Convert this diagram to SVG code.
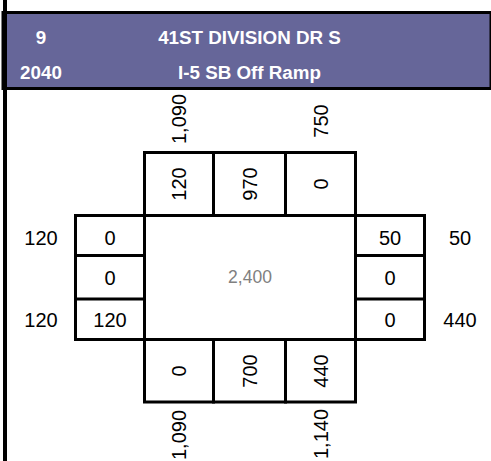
<svg xmlns="http://www.w3.org/2000/svg" width="491" height="461" viewBox="0 0 491 461">
<style>
.hd{font-family:"Liberation Sans",Arial,sans-serif;font-weight:bold;font-size:18.8px;fill:#ffffff;text-anchor:middle}
.n{font-family:"Liberation Sans",Arial,sans-serif;font-size:20px;fill:#000000;text-anchor:middle}
.c{font-family:"Liberation Sans",Arial,sans-serif;font-size:17.5px;fill:#808080;text-anchor:middle}
.ln{stroke:#000000;stroke-width:3;fill:none;stroke-linecap:square}
</style>
<rect x="0" y="0" width="491" height="461" fill="#ffffff"/>
<g id="header">
<rect x="3" y="12.5" width="488" height="76" fill="#666699" stroke="#000000" stroke-width="3"/>
<rect x="3" y="0" width="4" height="461" fill="#000000"/>
<text class="hd" x="41" y="43.5">9</text>
<text class="hd" x="249.5" y="43.5">41ST DIVISION DR S</text>
<text class="hd" x="41" y="78.5">2040</text>
<text class="hd" x="249.5" y="78.5">I-5 SB Off Ramp</text>
</g>
<g id="connectors">
<path class="ln" d="M144.5 152.5H355.5V402H144.5Z"/>
<path class="ln" d="M213.5 152.5V215.5M285.5 152.5V215.5M144.5 215.5H355.5"/>
<path class="ln" d="M213.5 339.5V402M285.5 339.5V402M144.5 339.5H355.5"/>
<path class="ln" d="M75.5 215.5H144.5M75.5 215.5V339.5H144.5M75.5 255.5H144.5M75.5 299H144.5"/>
<path class="ln" d="M355.5 215.5H424.5V339.5H355.5M355.5 255.5H424.5M355.5 299H424.5"/>
</g>
<g id="north">
<text class="n" transform="translate(179,119) rotate(-90)" dy="0.35em">1,090</text>
<text class="n" transform="translate(320.5,121) rotate(-90)" dy="0.35em">750</text>
<text class="n" transform="translate(179,184) rotate(-90)" dy="0.35em">120</text>
<text class="n" transform="translate(249.5,184) rotate(-90)" dy="0.35em">970</text>
<text class="n" transform="translate(320.5,184) rotate(-90)" dy="0.35em">0</text>
</g>
<g id="south">
<text class="n" transform="translate(179,371) rotate(-90)" dy="0.35em">0</text>
<text class="n" transform="translate(249.5,371) rotate(-90)" dy="0.35em">700</text>
<text class="n" transform="translate(320.5,371) rotate(-90)" dy="0.35em">440</text>
<text class="n" transform="translate(179,435) rotate(-90)" dy="0.35em">1,090</text>
<text class="n" transform="translate(320.5,434) rotate(-90)" dy="0.35em">1,140</text>
</g>
<g id="west">
<text class="n" x="41" y="244.5">120</text>
<text class="n" x="110" y="244.5">0</text>
<text class="n" x="110" y="284.5">0</text>
<text class="n" x="110" y="326.5">120</text>
<text class="n" x="41" y="326.5">120</text>
</g>
<g id="east">
<text class="n" x="390" y="244.5">50</text>
<text class="n" x="460" y="244.5">50</text>
<text class="n" x="390" y="284.5">0</text>
<text class="n" x="390" y="326.5">0</text>
<text class="n" x="460" y="326.5">440</text>
</g>
<g id="center">
<text class="c" x="250" y="283">2,400</text>
</g>
</svg>
